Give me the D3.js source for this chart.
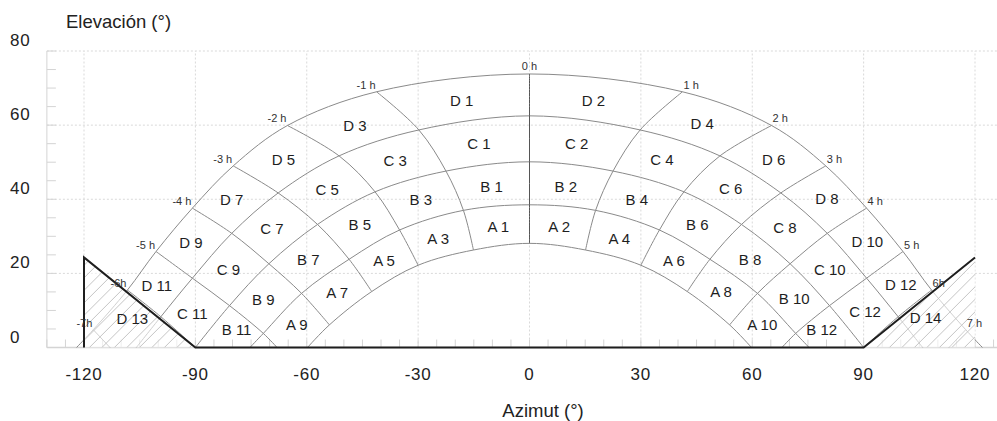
<!DOCTYPE html>
<html><head><meta charset="utf-8">
<script src="https://cdn.jsdelivr.net/npm/d3@7"></script>
<style>html,body{margin:0;padding:0;background:#fff;} svg{display:block;font-family:"Liberation Sans",Arial,Helvetica,sans-serif;}</style>
</head><body><svg id="chart" width="997" height="421"></svg>
<script>
// ---------- DATA (azimut °, elevación °) ----------
const X_TICKS = [-120, -90, -60, -30, 0, 30, 60, 90, 120];
const Y_TICKS = [0, 20, 40, 60, 80];

// sun-path arcs: [hour, azimut, elevación]; hour null = end on horizon
const arcA = [[null,-59.8,0],[-4,-53.9,6.1],[-3,-42.5,15.1],[-2,-30.0,22.2],[-1,-15.1,26.3],[0,0,28.1],[1,15.1,26.3],[2,30.0,22.2],[3,42.5,15.1],[4,53.9,6.1],[null,59.8,0]];
const arcB = [[null,-75.3,0],[-5,-71.7,3.8],[-4,-61.4,14.6],[-3,-48.6,23.8],[-2,-35.0,31.7],[-1,-17.8,37.0],[0,0,38.5],[1,17.8,37.0],[2,35.0,31.7],[3,48.6,23.8],[4,61.4,14.6],[5,71.7,3.8],[null,75.3,0]];
const arcC = [[-6,-90,0],[-5,-80.8,11.3],[-4,-70.2,22.6],[-3,-57.1,33.2],[-2,-41.6,42.0],[-1,-22.5,47.6],[0,0,50.1],[1,22.5,47.6],[2,41.6,42.0],[3,57.1,33.2],[4,70.2,22.6],[5,80.8,11.3],[6,90,0]];
const arcD = [[null,-105.9,0],[-6,-99.3,8.3],[-5,-90.8,18.7],[-4,-80.2,30.8],[-3,-67.7,41.7],[-2,-51.3,51.7],[-1,-29.8,58.7],[0,0,62.5],[1,29.8,58.7],[2,51.3,51.7],[3,67.7,41.7],[4,80.2,30.8],[5,90.8,18.7],[6,99.3,8.3],[null,105.9,0]];
const arcE = [[null,-122.0,0],[-7,-117.5,4.8],[-6,-108.3,15.5],[-5,-100.6,25.9],[-4,-90.8,37.6],[-3,-79.8,49.0],[-2,-65.2,59.9],[-1,-41.2,69.0],[0,0,73.8],[1,41.2,69.0],[2,65.2,59.9],[3,79.8,49.0],[4,90.8,37.6],[5,100.6,25.9],[6,108.3,15.5],[7,117.5,4.8],[null,122.0,0]];

// hour lines that end on the horizon: [hour, azimut, elevación]
const hourEnds = [[-7,-113,0],[-5,-68.0,0],[5,68.0,0],[7,113,0]];

const HOURS = [-7,-6,-5,-4,-3,-2,-1,0,1,2,3,4,5,6,7];
const HOUR_TEXT = ["-7h","-6h","-5 h","-4 h","-3 h","-2 h","-1 h","0 h","1 h","2 h","3 h","4 h","5 h","6h","7 h"];

// zone labels: [text, azimut, elevación]
const zoneLabels = [
  ["D 1",-18.3,66.6],["D 3",-47.0,60.0],["D 5",-66.3,50.6],["D 7",-80.2,40.0],["D 9",-91.2,28.3],["D 11",-100.4,16.6],["D 13",-107.0,7.9],
  ["C 1",-13.6,54.9],["C 3",-36.2,50.4],["C 5",-54.5,42.5],["C 7",-69.4,32.2],["C 9",-81.1,20.9],["C 11",-90.8,9.2],
  ["B 1",-10.2,43.4],["B 3",-29.3,40.0],["B 5",-45.7,33.2],["B 7",-59.6,23.6],["B 9",-71.7,13.0],["B 11",-78.9,4.9],
  ["A 1",-8.4,32.6],["A 3",-24.6,29.5],["A 5",-39.2,23.5],["A 7",-51.8,14.8],["A 9",-62.7,6.1],
  ["D 2",17.2,66.6],["D 4",46.5,60.3],["D 6",65.8,50.8],["D 8",80.1,40.2],["D 10",91.0,28.5],["D 12",100.0,17.1],["D 14",106.7,8.1],
  ["C 2",12.7,54.9],["C 4",35.7,50.6],["C 6",54.2,42.8],["C 8",68.8,32.4],["C 10",80.9,21.1],["C 12",90.4,9.7],
  ["B 2",9.8,43.4],["B 4",28.9,40.0],["B 6",45.2,33.1],["B 8",59.4,23.8],["B 10",71.3,13.3],["B 12",78.7,4.9],
  ["A 2",8.0,32.6],["A 4",24.2,29.5],["A 6",38.9,23.4],["A 8",51.6,15.1],["A 10",62.7,6.1]
];

// obstacle profile (horizon obstruction)
const obstacleLeft = [[-120,0],[-120,24.3],[-90,0]];
const obstacleRight = [[90,0],[120,24.3],[120,0]];
const profile = [[-120,0],[-120,24.3],[-90,0],[90,0],[120,24.3]];

// ---------- DRAWING ----------
const W = 997, H = 421;
const svg = d3.select("#chart");
const x = d3.scaleLinear().domain([-120, 120]).range([84, 975]);
const y = d3.scaleLinear().domain([0, 80]).range([347.5, 51]);
const X0 = x(-130);

// grid
const grid = svg.append("g");
grid.selectAll(".hg").data(Y_TICKS.filter(v => v > 0)).join("line")
  .attr("x1", X0).attr("x2", W).attr("y1", d => y(d)).attr("y2", d => y(d))
  .attr("stroke", "#d9d9d9").attr("stroke-dasharray", "2,2");
grid.selectAll(".vg").data(X_TICKS).join("line")
  .attr("x1", d => x(d)).attr("x2", d => x(d)).attr("y1", y(0)).attr("y2", y(80))
  .attr("stroke", "#d9d9d9").attr("stroke-dasharray", "2,2");

// axis lines and minor ticks
const ax = svg.append("g").attr("stroke", "#d4d4d4");
ax.append("line").attr("x1", X0).attr("x2", X0).attr("y1", y(0)).attr("y2", y(80));
ax.append("line").attr("x1", X0).attr("x2", W).attr("y1", y(0)).attr("y2", y(0)).attr("stroke-width", 1.6);
ax.selectAll(".ly").data(d3.range(0, 81, 5)).join("line")
  .attr("x1", X0).attr("x2", X0 + 9).attr("y1", d => y(d)).attr("y2", d => y(d));
ax.selectAll(".lx").data(d3.range(-130, 131, 5)).join("line")
  .attr("x1", d => x(d)).attr("x2", d => x(d)).attr("y1", y(0)).attr("y2", y(0) - 8);

// tick labels
svg.append("g").selectAll("text").data(Y_TICKS).join("text")
  .attr("x", 10).attr("y", d => y(d) - 5)
  .attr("font-size", 17).attr("fill", "#222").style("letter-spacing", "0.8px")
  .text(d => d);
svg.append("g").selectAll("text").data(X_TICKS).join("text")
  .attr("x", d => x(d)).attr("y", 380).attr("text-anchor", "middle")
  .attr("font-size", 17).attr("fill", "#222").style("letter-spacing", "0.8px")
  .text(d => d);

// axis titles
svg.append("text").attr("x", 66).attr("y", 28).attr("font-size", 18.5).attr("fill", "#222").text("Elevación (°)");
svg.append("text").attr("x", 543).attr("y", 417).attr("text-anchor", "middle").attr("font-size", 18.5).attr("fill", "#222").text("Azimut (°)");

// curves
const line = d3.line().x(d => x(d[1])).y(d => y(d[2])).curve(d3.curveCatmullRom.alpha(0.5));
const arcs = [arcE, arcD, arcC, arcB, arcA];
const curves = svg.append("g").attr("fill", "none").attr("stroke", "#8a8a8a").attr("stroke-width", 1);
curves.selectAll(".arc").data(arcs).join("path").attr("d", line);

const hourLines = HOURS.map(h => {
  const pts = [];
  arcs.forEach(a => a.forEach(p => { if (p[0] === h) pts.push(p); }));
  hourEnds.forEach(p => { if (p[0] === h) pts.push(p); });
  return { h, pts };
});
curves.selectAll(".hl").data(hourLines.filter(d => d.pts.length > 1)).join("path")
  .attr("d", d => line(d.pts))
  .attr("stroke", d => d.h === 0 ? "#555" : "#8a8a8a");

// obstacles: veil + hatch
const poly = pts => "M" + pts.map(p => [x(p[0]), y(p[1])].join(",")).join("L") + "Z";
const defs = svg.append("defs");
[obstacleLeft, obstacleRight].forEach((ob, i) => {
  defs.append("clipPath").attr("id", "clipOb" + i).append("path").attr("d", poly(ob));
  svg.append("path").attr("d", poly(ob)).attr("fill", "#fff").attr("fill-opacity", 0.6);
  const g = svg.append("g").attr("clip-path", `url(#clipOb${i})`)
    .attr("stroke", "#c4c4c4").attr("stroke-width", 1);
  const xs = d3.range(X0 - 120, W + 1, 12.5);
  g.selectAll("line").data(xs).join("line")
    .attr("x1", d => d).attr("y1", y(0)).attr("x2", d => d + 120).attr("y2", y(0) - 120);
});

// thick horizon profile
svg.append("path").attr("d", d3.line().x(d => x(d[0])).y(d => y(d[1]))(profile))
  .attr("fill", "none").attr("stroke", "#1e1e1e").attr("stroke-width", 2);

// hour labels on the outer arc
const outerNodes = arcE.filter(p => p[0] !== null);
svg.append("g").selectAll("text").data(outerNodes).join("text")
  .attr("x", d => d[0] === 0 ? x(d[1]) : (d[0] < 0 ? x(d[1]) - 1 : x(d[1]) + 1))
  .attr("y", d => y(d[2]) - (d[0] === 0 ? 4 : 3))
  .attr("text-anchor", d => d[0] === 0 ? "middle" : (d[0] < 0 ? "end" : "start"))
  .attr("font-size", 11).attr("fill", "#333")
  .text(d => HOUR_TEXT[HOURS.indexOf(d[0])]);

// zone labels
svg.append("g").selectAll("text").data(zoneLabels).join("text")
  .attr("x", d => x(d[1])).attr("y", d => y(d[2])).attr("dy", "0.36em")
  .attr("text-anchor", "middle").attr("font-size", 15).attr("fill", "#1e1e1e")
  .text(d => d[0]);
</script></body></html>
